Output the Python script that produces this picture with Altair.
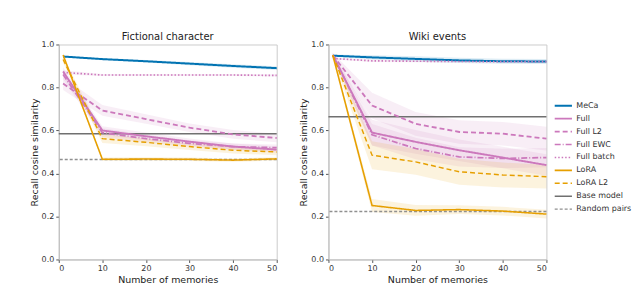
import altair as alt
import pandas as pd

X = [1, 10, 20, 30, 40, 50]
SERIES = ["MeCa", "Full", "Full L2", "Full EWC", "Full batch", "LoRA", "LoRA L2", "Base model", "Random pairs"]
COLORS = ["#0173b2", "#cc78bc", "#cc78bc", "#cc78bc", "#cc78bc", "#e69f00", "#e69f00", "#707070", "#909090"]
DASHES = [[1, 0], [1, 0], [5, 3], [6, 2, 1, 2], [1.5, 2], [1, 0], [5, 3], [1, 0], [3, 2]]
WIDTHS = [2.0, 1.3, 1.3, 1.3, 1.3, 1.3, 1.3, 1.2, 1.2]

# Fictional character
F_MeCa = [0.944, 0.932, 0.922, 0.911, 0.900, 0.890]
F_Full = [0.874, 0.600, 0.573, 0.548, 0.525, 0.511]
F_FullL2 = [0.818, 0.693, 0.653, 0.613, 0.582, 0.565]
F_FullEWC = [0.860, 0.590, 0.562, 0.540, 0.525, 0.520]
F_FullBatch = [0.870, 0.858, 0.858, 0.858, 0.858, 0.856]
F_LoRA = [0.951, 0.466, 0.467, 0.466, 0.462, 0.468]
F_LoRAL2 = [0.930, 0.562, 0.545, 0.525, 0.508, 0.500]
F_Base = 0.585
F_Random = 0.465
F_err = {
    "MeCa": [0.004, 0.005, 0.006, 0.007, 0.008, 0.009],
    "Full": [0.02, 0.02, 0.018, 0.015, 0.015, 0.015],
    "Full L2": [0.03, 0.025, 0.022, 0.02, 0.02, 0.02],
    "Full EWC": [0.02, 0.02, 0.018, 0.015, 0.015, 0.015],
    "Full batch": [0.01, 0.005, 0.005, 0.005, 0.005, 0.005],
    "LoRA": [0.01, 0.008, 0.008, 0.008, 0.008, 0.008],
    "LoRA L2": [0.015, 0.02, 0.018, 0.016, 0.015, 0.015],
}

# Wiki events
W_MeCa = [0.948, 0.940, 0.933, 0.926, 0.922, 0.921]
W_Full = [0.950, 0.590, 0.547, 0.508, 0.474, 0.439]
W_FullL2 = [0.950, 0.716, 0.631, 0.593, 0.585, 0.562]
W_FullEWC = [0.950, 0.580, 0.516, 0.477, 0.470, 0.474]
W_FullBatch = [0.935, 0.924, 0.922, 0.921, 0.920, 0.920]
W_LoRA = [0.950, 0.251, 0.228, 0.232, 0.225, 0.211]
W_LoRAL2 = [0.950, 0.485, 0.454, 0.408, 0.393, 0.385]
W_Base = 0.664
W_Random = 0.223
W_err = {
    "MeCa": [0.005, 0.01, 0.012, 0.012, 0.012, 0.012],
    "Full": [0.01, 0.06, 0.055, 0.05, 0.05, 0.05],
    "Full L2": [0.01, 0.06, 0.055, 0.055, 0.055, 0.055],
    "Full EWC": [0.01, 0.05, 0.05, 0.045, 0.045, 0.045],
    "Full batch": [0.005, 0.005, 0.005, 0.005, 0.005, 0.005],
    "LoRA": [0.01, 0.03, 0.025, 0.02, 0.02, 0.02],
    "LoRA L2": [0.01, 0.065, 0.06, 0.06, 0.058, 0.055],
}


def build(vals, err):
    rows = []
    for name, ys in vals.items():
        for x, y, e in zip(X, ys, err[name]):
            rows.append({"x": x, "y": y, "lo": y - e, "hi": y + e, "series": name})
    return pd.DataFrame(rows)


F_df = build({"MeCa": F_MeCa, "Full": F_Full, "Full L2": F_FullL2, "Full EWC": F_FullEWC,
              "Full batch": F_FullBatch, "LoRA": F_LoRA, "LoRA L2": F_LoRAL2}, F_err)
W_df = build({"MeCa": W_MeCa, "Full": W_Full, "Full L2": W_FullL2, "Full EWC": W_FullEWC,
              "Full batch": W_FullBatch, "LoRA": W_LoRA, "LoRA L2": W_LoRAL2}, W_err)
F_ref = pd.DataFrame({"y": [F_Base, F_Random], "series": ["Base model", "Random pairs"]})
W_ref = pd.DataFrame({"y": [W_Base, W_Random], "series": ["Base model", "Random pairs"]})

LEG = alt.Legend(title=None, orient="none", legendX=497, legendY=56,
                 symbolType="stroke", symbolSize=300, labelFontSize=8, symbolOpacity=1,
                 rowPadding=2, clipHeight=11, labelOffset=3, labelFont="DejaVu Sans",
                 labelColor="#333333", padding=0)
color = alt.Color("series:N", scale=alt.Scale(domain=SERIES, range=COLORS), legend=LEG)
dash = alt.StrokeDash("series:N", scale=alt.Scale(domain=SERIES, range=DASHES), legend=LEG)
width = alt.StrokeWidth("series:N", scale=alt.Scale(domain=SERIES, range=WIDTHS), legend=LEG)

xax = alt.X("x:Q", scale=alt.Scale(domain=[0, 50], nice=False),
            axis=alt.Axis(values=[0, 10, 20, 30, 40, 50], title="Number of memories"))
yax = alt.Y("y:Q", scale=alt.Scale(domain=[0, 1], nice=False),
            axis=alt.Axis(values=[0, 0.2, 0.4, 0.6, 0.8, 1.0], format=".1f",
                          title="Recall cosine similarity"))


def panel(df, ref, title):
    band = alt.Chart(df).mark_area(opacity=0.13).encode(
        x=xax, y=alt.Y("lo:Q", scale=alt.Scale(domain=[0, 1], nice=False)), y2="hi:Q",
        color=color, detail="series:N")
    lines = alt.Chart(df).mark_line().encode(x=xax, y=yax, color=color, strokeDash=dash,
                                             strokeWidth=width)
    rules = alt.Chart(ref).mark_rule().encode(y="y:Q", color=color, strokeDash=dash,
                                              strokeWidth=width)
    return alt.layer(band, rules, lines).properties(
        width=219, height=216, title=alt.TitleParams(title, fontSize=10, fontWeight="normal",
                                                     font="DejaVu Sans", offset=-1.5,
                                                     color="#222222"))


chart = alt.hconcat(panel(F_df, F_ref, "Fictional character"),
                    panel(W_df, W_ref, "Wiki events"), spacing=16).properties(
    padding={"left": 20, "top": 23, "right": 0, "bottom": 0}
).configure_view(stroke="#cccccc").configure_axis(
    grid=False, labelFontSize=8, titleFontSize=9.5, titleFontWeight="normal",
    labelFont="DejaVu Sans", titleFont="DejaVu Sans", domainColor="#bbbbbb",
    tickColor="#555555", tickSize=3, labelColor="#333333", titleColor="#222222",
    titlePadding=2
)

chart.save("out.html", embed_options={"renderer": "svg", "actions": False})
